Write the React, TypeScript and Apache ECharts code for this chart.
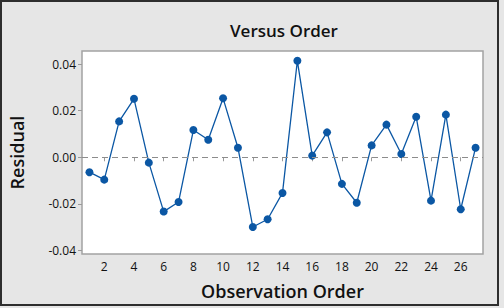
import React, { useEffect, useRef } from "react";
import * as echarts from "echarts";

const observations = ["1","2","3","4","5","6","7","8","9","10","11","12","13","14","15","16","17","18","19","20","21","22","23","24","25","26","27"];
const residuals = [-0.0064, -0.0096, 0.0154, 0.0251, -0.0023, -0.0233, -0.0192, 0.0117, 0.0075, 0.0253, 0.0041, -0.0299, -0.0266, -0.0153, 0.0414, 0.0007, 0.0107, -0.0114, -0.0195, 0.0051, 0.0140, 0.0014, 0.0174, -0.0186, 0.0183, -0.0223, 0.0041];
const yTicks = [-0.04, -0.02, 0, 0.02, 0.04];

export default function App() {
  const ref = useRef<HTMLDivElement>(null);
  useEffect(() => {
    document.body.style.margin = "0";
    const chart = echarts.init(ref.current!, null, { renderer: "svg" });
    const font = "'Open Sans', 'DejaVu Sans', sans-serif";
    chart.setOption({
      animation: false,
      backgroundColor: "#e6e6e6",
      textStyle: { fontFamily: font },
      title: {
        text: "Versus Order",
        left: 279,
        top: 17,
        textAlign: "center",
        textStyle: { fontSize: 17, fontWeight: 600, color: "#111", fontFamily: font },
      },
      graphic: [
        {
          type: "rect",
          shape: { x: 1, y: 1, width: 497, height: 304 },
          style: { fill: "none", stroke: "#2e2e2e", lineWidth: 2 },
          silent: true,
        },
      ],
      grid: {
        left: 76,
        top: 51,
        right: 21,
        bottom: 54,
        show: true,
        backgroundColor: "#ffffff",
        borderColor: "#a3a3a3",
        borderWidth: 1.5,
      },
      xAxis: {
        type: "category",
        data: observations,
        boundaryGap: true,
        name: "Observation Order",
        nameLocation: "middle",
        nameGap: 28,
        nameTextStyle: { fontSize: 18, fontWeight: 600, color: "#111", fontFamily: font },
        axisLine: { show: false },
        axisTick: {
          show: true,
          alignWithLabel: true,
          interval: (i: number) => i % 2 === 1,
          length: 4,
          lineStyle: { color: "#9a9a9a" },
        },
        axisLabel: {
          interval: (i: number) => i % 2 === 1,
          fontSize: 12,
          fontWeight: 500,
          color: "#111",
          margin: 6,
        },
        splitLine: { show: false },
      },
      yAxis: {
        type: "value",
        min: -0.0415,
        max: 0.0456,
        name: "Residual",
        nameLocation: "middle",
        nameGap: 56,
        nameTextStyle: { fontSize: 18, fontWeight: 600, color: "#111", fontFamily: font },
        axisLine: { show: false },
        axisTick: {
          show: true,
          customValues: yTicks,
          length: 4,
          lineStyle: { color: "#9a9a9a" },
        },
        axisLabel: {
          customValues: yTicks,
          formatter: (v: number) => v.toFixed(2),
          fontSize: 12,
          fontWeight: 500,
          color: "#111",
          margin: 6,
        },
        splitLine: { show: false },
      },
      series: [
        {
          type: "line",
          data: residuals,
          symbol: "circle",
          symbolSize: 8,
          itemStyle: { color: "#0b57a4" },
          lineStyle: { color: "#0b57a4", width: 1.3 },
          markLine: {
            silent: true,
            symbol: "none",
            label: { show: false },
            lineStyle: { color: "#8c8c8c", type: [6, 4], width: 1 },
            data: [{ yAxis: 0 }],
          },
        },
      ],
    });
    return () => chart.dispose();
  }, []);
  return <div ref={ref} style={{ width: 504, height: 308 }} />;
}
